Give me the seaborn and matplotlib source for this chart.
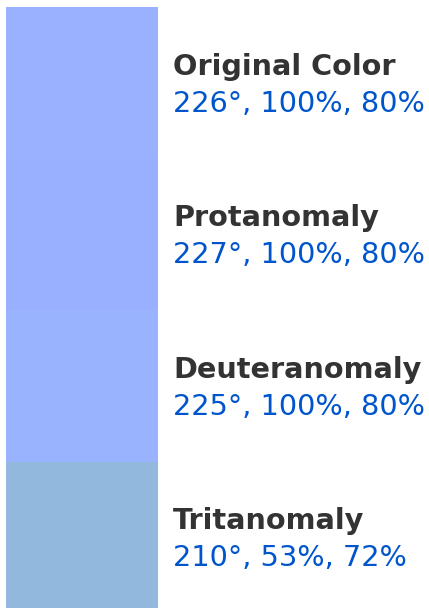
import colorsys
import matplotlib
matplotlib.use('Agg')
import matplotlib.pyplot as plt
import seaborn as sns

names = ['Original Color', 'Protanomaly', 'Deuteranomaly', 'Tritanomaly']
hues = [226, 227, 225, 210]
sats = [100, 100, 100, 53]
lights = [80, 80, 80, 72]

colors = [colorsys.hls_to_rgb(h / 360, l / 100, s / 100) for h, s, l in zip(hues, sats, lights)]
labels = [f'{h}°, {s}%, {l}%' for h, s, l in zip(hues, sats, lights)]

sns.set_style('white')
plt.rcParams['font.family'] = ['DejaVu Sans']

W, H = 429, 608
fig = plt.figure(figsize=(W / 100, H / 100), dpi=100)
ax = fig.add_axes([0, 0, 1, 1])

sns.barplot(x=[1] * len(names), y=names, hue=names, palette=colors, width=1,
            saturation=1, orient='h', linewidth=0, legend=False, ax=ax)

# pixel layout: swatch 6..158 px wide, rows 151.5 px tall starting at y=7
sw = 152
row = 151.5
ax.set_xlim(-6 / sw, (W - 6) / sw)
top = -0.5 - 7 / row
ax.set_ylim(top + H / row, top)
ax.axis('off')

tx = (173 - 6) / sw
for i, (name, lab) in enumerate(zip(names, labels)):
    ax.text(tx, i - 8 / row, name, fontsize=20.7, fontweight='bold',
            color='#333333', va='baseline', ha='left')
    ax.text(tx, i + 29 / row, lab, fontsize=20.7,
            color='#0055cc', va='baseline', ha='left')

fig.savefig('out.png', dpi=100)
